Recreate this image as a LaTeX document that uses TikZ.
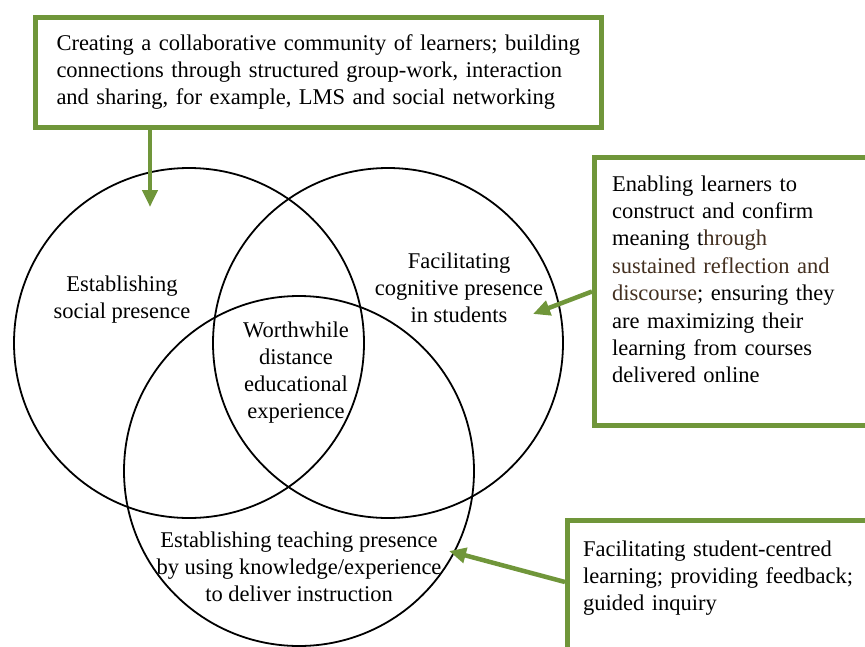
\documentclass[tikz,border=0pt]{standalone}
\usepackage{fontspec}
\setmainfont{Liberation Serif}
\usetikzlibrary{arrows.meta,calc}
\definecolor{notegreen}{RGB}{112,150,58}
\definecolor{notebrown}{RGB}{68,48,32}
\tikzset{
  ring/.style={circle,draw,line width=1.8pt,minimum size=350pt,inner sep=0pt},
  lbl/.style={align=center,inner sep=0pt,font=\fontsize{22.5}{27}\selectfont},
  note/.style={draw=notegreen,line width=5pt,anchor=north west},
  notetext/.style={align=left,inner sep=0pt,anchor=base west,font=\fontsize{22.5}{27.4}\selectfont},
  pointer/.style={notegreen,line width=4.5pt,-{Triangle[length=17pt,width=15pt]}}
}
\begin{document}
\begin{tikzpicture}[x=1pt,y=-1pt]
  \useasboundingbox (0,0) rectangle (865,646);
  \clip (0,0) rectangle (865,646);
  \fill[white] (0,0) rectangle (865,646);

  % the three presences
  \node[ring] (socialring) at (189,343) {};
  \node[ring] (cogring) at (388,343) {};
  \node[ring] (teachring) at (299,471) {};

  \node[lbl] (sociallbl) at (122,300) {Establishing\\social presence};
  \node[lbl] (coglbl) at (459,288) {Facilitating\\cognitive presence\\in students};
  \node[lbl] (worthlbl) at (296,373) {Worthwhile\\distance\\educational\\experience};
  \node[lbl] (teachlbl) at (299,567) {Establishing teaching presence\\by using knowledge/experience\\to deliver instruction};

  % notes
  \node[note,text width=524pt,inner xsep=21pt,minimum height=110pt,align=left,
        font=\fontsize{22.5}{27}\selectfont] (socialnote) at (33,15)
    {Creating a collaborative community of learners; building\\
     connections through structured group-work, interaction\\
     and sharing, for example, LMS and social networking};

  \node[note,minimum width=320pt,minimum height=268pt] (cognote) at (592,155) {};
  \node[notetext,text width=260pt] (cogtext) at (612,191)
    {Enabling learners to\\
     construct and confirm\\
     meaning t{\color{notebrown}hrough}\\
     {\color{notebrown}sustained reflection and}\\
     {\color{notebrown}discourse}; ensuring they\\
     are maximizing their\\
     learning from courses\\
     delivered online};

  \node[note,minimum width=330pt,minimum height=170pt] (teachnote) at (565,518) {};
  \node[notetext,text width=290pt] (teachtext) at (583,556)
    {Facilitating student-centred\\
     learning; providing feedback;\\
     guided inquiry};

  % pointers
  \coordinate (socialtip) at (150,207);
  \coordinate (cogtip) at (533,314);
  \coordinate (teachtip) at (449,551);
  \draw[pointer] (socialnote.south -| socialtip) -- (socialtip);
  \draw[pointer] (cognote.west) -- (cogtip);
  \draw[pointer] ($(teachnote.north west)+(0,64)$) -- (teachtip);
\end{tikzpicture}
\end{document}
